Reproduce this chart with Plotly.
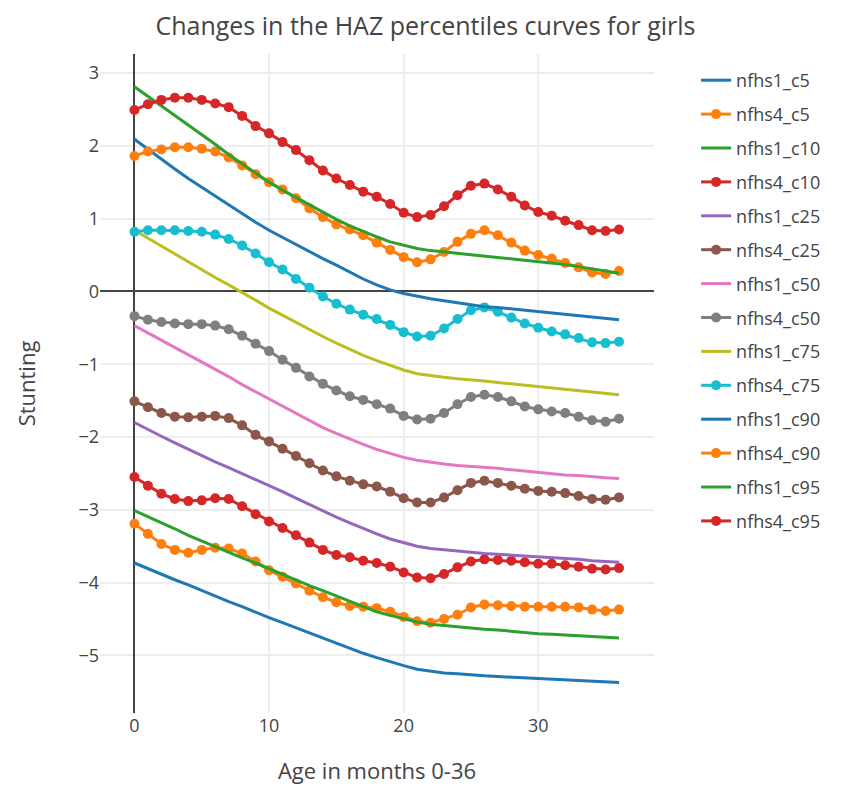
import plotly.graph_objects as go

months = list(range(37))

nfhs1_c5 = [-3.73,-3.81,-3.88,-3.96,-4.03,-4.11,-4.18,-4.26,-4.33,-4.41,-4.48,-4.55,-4.62,-4.70,-4.77,-4.84,-4.91,-4.97,-5.03,-5.09,-5.14,-5.19,-5.22,-5.24,-5.25,-5.27,-5.28,-5.29,-5.30,-5.31,-5.32,-5.33,-5.34,-5.35,-5.36,-5.36,-5.37]
nfhs4_c5 = [-3.19,-3.33,-3.47,-3.55,-3.59,-3.55,-3.52,-3.53,-3.60,-3.71,-3.83,-3.92,-4.01,-4.11,-4.20,-4.27,-4.32,-4.33,-4.35,-4.40,-4.47,-4.53,-4.55,-4.50,-4.44,-4.34,-4.30,-4.31,-4.32,-4.33,-4.33,-4.33,-4.33,-4.34,-4.37,-4.39,-4.37]
nfhs1_c10 = [-3.01,-3.09,-3.18,-3.26,-3.35,-3.43,-3.51,-3.58,-3.66,-3.73,-3.81,-3.89,-3.96,-4.04,-4.11,-4.18,-4.25,-4.33,-4.40,-4.45,-4.50,-4.54,-4.57,-4.59,-4.61,-4.62,-4.64,-4.65,-4.67,-4.68,-4.70,-4.71,-4.72,-4.73,-4.74,-4.75,-4.76]
nfhs4_c10 = [-2.55,-2.67,-2.78,-2.85,-2.88,-2.87,-2.84,-2.85,-2.95,-3.06,-3.16,-3.25,-3.35,-3.45,-3.55,-3.62,-3.65,-3.70,-3.73,-3.78,-3.86,-3.93,-3.94,-3.88,-3.79,-3.71,-3.68,-3.69,-3.70,-3.72,-3.74,-3.74,-3.76,-3.78,-3.81,-3.82,-3.80]
nfhs1_c25 = [-1.80,-1.90,-1.99,-2.08,-2.17,-2.26,-2.34,-2.42,-2.50,-2.58,-2.66,-2.75,-2.84,-2.93,-3.02,-3.10,-3.18,-3.26,-3.33,-3.40,-3.45,-3.50,-3.53,-3.55,-3.57,-3.59,-3.60,-3.61,-3.62,-3.63,-3.65,-3.66,-3.67,-3.68,-3.70,-3.71,-3.72]
nfhs4_c25 = [-1.51,-1.59,-1.67,-1.72,-1.73,-1.72,-1.71,-1.74,-1.84,-1.97,-2.06,-2.16,-2.26,-2.36,-2.46,-2.54,-2.60,-2.65,-2.68,-2.75,-2.84,-2.90,-2.90,-2.83,-2.73,-2.63,-2.60,-2.63,-2.67,-2.71,-2.74,-2.75,-2.77,-2.81,-2.85,-2.86,-2.83]
nfhs1_c50 = [-0.47,-0.57,-0.67,-0.76,-0.86,-0.96,-1.07,-1.17,-1.28,-1.38,-1.48,-1.58,-1.68,-1.78,-1.87,-1.95,-2.03,-2.10,-2.17,-2.23,-2.28,-2.32,-2.35,-2.37,-2.39,-2.40,-2.42,-2.43,-2.45,-2.47,-2.49,-2.50,-2.52,-2.53,-2.55,-2.56,-2.57]
nfhs4_c50 = [-0.34,-0.39,-0.42,-0.44,-0.45,-0.45,-0.47,-0.52,-0.61,-0.72,-0.82,-0.94,-1.05,-1.17,-1.27,-1.36,-1.44,-1.49,-1.55,-1.61,-1.71,-1.76,-1.75,-1.67,-1.55,-1.45,-1.42,-1.45,-1.51,-1.58,-1.62,-1.65,-1.67,-1.72,-1.77,-1.79,-1.75]
nfhs1_c75 = [0.84,0.73,0.62,0.51,0.40,0.30,0.19,0.09,-0.01,-0.12,-0.23,-0.33,-0.43,-0.53,-0.62,-0.71,-0.80,-0.88,-0.95,-1.02,-1.08,-1.13,-1.16,-1.18,-1.20,-1.21,-1.23,-1.25,-1.27,-1.29,-1.31,-1.33,-1.35,-1.37,-1.39,-1.41,-1.42]
nfhs4_c75 = [0.82,0.84,0.84,0.84,0.83,0.82,0.78,0.72,0.63,0.52,0.40,0.30,0.17,0.05,-0.07,-0.17,-0.25,-0.32,-0.38,-0.46,-0.56,-0.62,-0.61,-0.51,-0.38,-0.26,-0.22,-0.28,-0.36,-0.44,-0.50,-0.55,-0.59,-0.64,-0.70,-0.71,-0.69]
nfhs1_c90 = [2.09,1.95,1.82,1.68,1.55,1.43,1.30,1.18,1.06,0.95,0.84,0.74,0.64,0.54,0.45,0.36,0.26,0.17,0.09,0.02,-0.03,-0.07,-0.10,-0.13,-0.16,-0.18,-0.21,-0.22,-0.24,-0.26,-0.28,-0.30,-0.32,-0.34,-0.36,-0.37,-0.39]
nfhs4_c90 = [1.86,1.92,1.95,1.98,1.98,1.96,1.92,1.84,1.73,1.61,1.50,1.40,1.28,1.14,1.02,0.92,0.85,0.77,0.67,0.57,0.47,0.40,0.44,0.54,0.68,0.79,0.84,0.77,0.67,0.56,0.50,0.45,0.39,0.33,0.26,0.24,0.28]
nfhs1_c95 = [2.81,2.68,2.55,2.42,2.29,2.15,2.02,1.88,1.75,1.62,1.50,1.39,1.29,1.18,1.08,0.99,0.90,0.82,0.75,0.68,0.63,0.59,0.56,0.54,0.52,0.51,0.49,0.47,0.45,0.43,0.41,0.39,0.37,0.34,0.31,0.28,0.25]
nfhs4_c95 = [2.49,2.57,2.63,2.66,2.66,2.63,2.58,2.53,2.41,2.27,2.17,2.05,1.94,1.80,1.66,1.55,1.46,1.37,1.30,1.20,1.08,1.02,1.05,1.17,1.32,1.45,1.48,1.40,1.30,1.18,1.09,1.04,0.97,0.91,0.84,0.83,0.85]

series = [
    ("nfhs1_c5", nfhs1_c5), ("nfhs4_c5", nfhs4_c5),
    ("nfhs1_c10", nfhs1_c10), ("nfhs4_c10", nfhs4_c10),
    ("nfhs1_c25", nfhs1_c25), ("nfhs4_c25", nfhs4_c25),
    ("nfhs1_c50", nfhs1_c50), ("nfhs4_c50", nfhs4_c50),
    ("nfhs1_c75", nfhs1_c75), ("nfhs4_c75", nfhs4_c75),
    ("nfhs1_c90", nfhs1_c90), ("nfhs4_c90", nfhs4_c90),
    ("nfhs1_c95", nfhs1_c95), ("nfhs4_c95", nfhs4_c95),
]
colors = ["#1f77b4", "#ff7f0e", "#2ca02c", "#d62728", "#9467bd",
          "#8c564b", "#e377c2", "#7f7f7f", "#bcbd22", "#17becf"]

fig = go.Figure()
for i, (name, vals) in enumerate(series):
    c = colors[i % 10]
    if name.startswith("nfhs1"):
        fig.add_trace(go.Scatter(x=months, y=vals, name=name, mode="lines",
                                 line=dict(color=c, width=3), legendgroup=name))
    else:
        fig.add_trace(go.Scatter(x=months, y=vals, name=name, mode="lines+markers",
                                 line=dict(color=c, width=3),
                                 marker=dict(color=c, size=10), legendgroup=name))

W, H = 835, 780
fig.update_layout(
    width=W, height=H,
    template="none",
    paper_bgcolor="white", plot_bgcolor="white",
    font=dict(family="Open Sans", color="#444", size=18),
    title=dict(text="Changes in the HAZ percentiles curves for girls",
               x=0.5, xref="container", xanchor="center",
               y=1 - 18/H, yref="container", yanchor="middle",
               font=dict(size=25, color="#444")),
    margin=dict(l=92, r=189, t=46, b=75, pad=0),
    xaxis=dict(range=[-2.56, 38.6], tickvals=[0, 10, 20, 30],
               showgrid=True, gridcolor="#eee", gridwidth=1.5,
               zeroline=True, zerolinecolor="#444", zerolinewidth=1.5,
               showline=False, ticks="",
               tickfont=dict(size=18, color="#444"),
               title=dict(text="Age in months 0-36", standoff=27,
                          font=dict(size=22, color="#444"))),
    yaxis=dict(range=[-5.79, 3.26], tickvals=[-5, -4, -3, -2, -1, 0, 1, 2, 3],
               showgrid=True, gridcolor="#eee", gridwidth=1.5,
               zeroline=True, zerolinecolor="#444", zerolinewidth=1.5,
               showline=False, ticks="",
               tickfont=dict(size=18, color="#444"),
               title=dict(text="Stunting", standoff=36,
                          font=dict(size=22, color="#444"))),
    legend=dict(x=1.076, y=1 - 8/659, xanchor="left", yanchor="top",
                font=dict(size=18, color="#444"),
                tracegroupgap=7.5, bgcolor="rgba(0,0,0,0)"),
    showlegend=True,
)

fig.write_html("out.html")
